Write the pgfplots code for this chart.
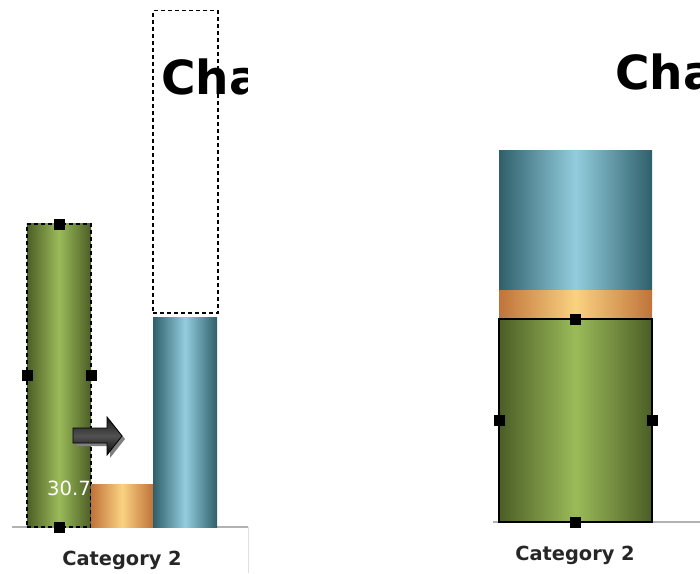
\documentclass[border=0pt]{standalone}
\usepackage{fontspec}
\setmainfont{DejaVu Sans}
\usepackage{pgfplots}
\pgfplotsset{compat=1.18}
\definecolor{gEdge}{HTML}{4B5E26}
\definecolor{gMid}{HTML}{9BBB59}
\definecolor{oEdge}{HTML}{C0733A}
\definecolor{oMid}{HTML}{FAD281}
\definecolor{bEdge}{HTML}{2F5F6B}
\definecolor{bMid}{HTML}{93CDDD}
\pgfplotsset{
  greenbar/.style={left color=gEdge, right color=gEdge, middle color=gMid},
  orangebar/.style={left color=oEdge, right color=oEdge, middle color=oMid, draw=none},
  bluebar/.style={left color=bEdge, right color=bEdge, middle color=bMid, draw=none},
  catlabel/.style={anchor=base, yshift=-19pt, font=\fontsize{9.7}{11}\selectfont\bfseries, text=black!85},
}
\begin{document}
\begin{tikzpicture}
\path[use as bounding box] (0,0) rectangle (350pt,286.5pt);
\clip (0,0) rectangle (350pt,286.5pt);
% left chart title (clipped by chart area)
\begin{scope}
\clip (0,0) rectangle (123.5pt,286.5pt);
\node[anchor=base west, inner sep=0, font=\fontsize{23.5}{28}\selectfont\bfseries] at (80.5pt,239pt) {Cha};
\end{scope}
% right chart title
\node[anchor=base west, inner sep=0, font=\fontsize{23.5}{28}\selectfont\bfseries] at (307.5pt,241.5pt) {Cha};
\draw[black!12, line width=0.5pt] (124pt,0) -- (124pt,23pt);
% left chart: clustered
\begin{axis}[
  at={(6pt,23pt)}, anchor=south west, scale only axis,
  width=118pt, height=258.5pt,
  xmin=0, xmax=236, ymin=0, ymax=52.38,
  axis x line*=bottom, axis y line=none,
  x axis line style={draw=black!30, line width=0.8pt},
  xtick={110}, xticklabels={Category 2}, major tick length=0pt,
  ytick=\empty, clip=false,
  xticklabel style={catlabel},
]
\addplot[ybar, bar width=32pt, bar shift=0pt, greenbar, draw=black, line width=0.6pt, dash pattern=on 2pt off 1.5pt] coordinates {(47,30.7)};
\node[text=white, font=\fontsize{9.8}{11}\selectfont] at (axis cs:57,3.95) {30.7};
\addplot[ybar, bar width=31pt, bar shift=0pt, orangebar] coordinates {(110,4.3)};
\addplot[ybar, bar width=32pt, bar shift=0pt, bluebar] coordinates {(173,21.2)};
\addplot[black, dash pattern=on 2pt off 1.5pt, line width=0.6pt] coordinates {(141,21.68) (206,21.68) (206,52.3) (141,52.3) (141,21.68)};
\addplot[only marks, mark=square*, mark size=2.5pt, black] coordinates {(47,30.7) (47,0) (15,15.35) (79,15.35)};
\end{axis}
% right chart: stacked
\begin{axis}[
  at={(246.5pt,25.5pt)}, anchor=south west, scale only axis,
  width=103.5pt, height=256pt,
  xmin=0, xmax=207, ymin=0, ymax=77.43,
  ybar stacked, bar width=76.5pt,
  axis x line*=bottom, axis y line=none,
  x axis line style={draw=black!30, line width=0.8pt},
  xtick={82}, xticklabels={Category 2}, major tick length=0pt,
  ytick=\empty, clip=false,
  xticklabel style={catlabel},
]
\addplot[greenbar, draw=black, line width=0.7pt] coordinates {(82.5,30.7)};
\addplot[orangebar] coordinates {(82.5,4.3)};
\addplot[bluebar] coordinates {(82.5,21.2)};
\end{axis}
\begin{axis}[
  at={(246.5pt,25.5pt)}, anchor=south west, scale only axis,
  width=103.5pt, height=256pt,
  xmin=0, xmax=207, ymin=0, ymax=77.43,
  hide axis, clip=false,
]
\addplot[only marks, mark=square*, mark size=2.5pt, black] coordinates {(82.5,30.7) (82.5,0) (6,15.35) (159,15.35)};
\end{axis}
% arrow annotation
\fill[black!50] (38pt,71pt) -- (55pt,71pt) -- (55pt,76.5pt) -- (62.5pt,67pt) -- (55pt,57.5pt) -- (55pt,63.5pt) -- (38pt,63.5pt) -- cycle;
\draw[black, line width=0.4pt, top color=black!90, bottom color=black!97, middle color=black!68]
  (36.5pt,72.5pt) -- (53.5pt,72.5pt) -- (53.5pt,78pt) -- (61pt,68.5pt) -- (53.5pt,59pt) -- (53.5pt,65pt) -- (36.5pt,65pt) -- cycle;
\end{tikzpicture}
\end{document}
